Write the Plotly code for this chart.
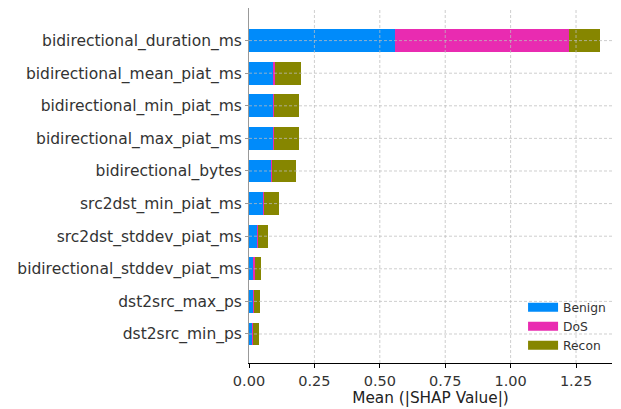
import plotly.graph_objects as go

features = ["bidirectional_duration_ms", "bidirectional_mean_piat_ms",
            "bidirectional_min_piat_ms", "bidirectional_max_piat_ms",
            "bidirectional_bytes", "src2dst_min_piat_ms",
            "src2dst_stddev_piat_ms", "bidirectional_stddev_piat_ms",
            "dst2src_max_ps", "dst2src_min_ps"]
benign = [0.559, 0.094, 0.092, 0.092, 0.087, 0.054, 0.033, 0.018, 0.018, 0.015]
dos = [0.666, 0.005, 0.003, 0.002, 0.001, 0.002, 0.0005, 0.005, 0.0005, 0.002]
recon = [0.115, 0.099, 0.096, 0.097, 0.093, 0.059, 0.039, 0.023, 0.024, 0.021]
class_names = ["Benign", "DoS", "Recon"]
class_colors = ["rgb(0,139,250)", "rgb(233,43,177)", "rgb(134,134,0)"]
x_ticks = [0.0, 0.25, 0.5, 0.75, 1.0, 1.25]
x_tick_labels = ["0.00", "0.25", "0.50", "0.75", "1.00", "1.25"]

fig = go.Figure()
for name, vals, col in zip(class_names, [benign, dos, recon], class_colors):
    fig.add_trace(go.Bar(
        y=features, x=vals, name=name, orientation="h",
        marker=dict(color=col, line=dict(width=0)),
        width=0.7, showlegend=False))
for name, col in zip(class_names, class_colors):
    fig.add_trace(go.Scatter(
        x=[None], y=[None], mode="lines", name=name,
        line=dict(color=col, width=9), showlegend=True))

grid_col = "rgba(190,190,190,0.75)"
shapes = []
for t in x_ticks[1:]:
    shapes.append(dict(type="line", xref="x", yref="paper", x0=t, x1=t, y0=0, y1=1,
                       line=dict(color=grid_col, width=1, dash="3px,2px"), layer="above"))
for f in features:
    shapes.append(dict(type="line", xref="paper", yref="y", x0=0, x1=1, y0=f, y1=f,
                       line=dict(color=grid_col, width=1, dash="3px,2px"), layer="above"))

# the page body adds an 8px offset; size and margins compensate for it
fig.update_layout(
    width=613, height=401,
    margin=dict(l=241, r=9, t=0, b=46),
    barmode="stack", bargap=0.3,
    plot_bgcolor="white", paper_bgcolor="white",
    font=dict(family="DejaVu Sans", color="#333333"),
    shapes=shapes,
    legend=dict(x=0.755, y=0.198, xanchor="left", yanchor="top", traceorder="normal",
                bgcolor="rgba(0,0,0,0)", font=dict(size=12.3, color="#333333"),
                itemwidth=30, tracegroupgap=0),
    xaxis=dict(range=[0, 1.3875], tickvals=x_ticks, ticktext=x_tick_labels,
               showgrid=False, zeroline=False, showline=True, linecolor="black",
               linewidth=1.2, ticks="outside", ticklen=4, tickcolor="black",
               tickfont=dict(size=14.5, color="#333333"),
               title=dict(text="Mean (|SHAP Value|)", font=dict(size=15.3, color="#222222"),
                          standoff=4)),
    yaxis=dict(categoryorder="array", categoryarray=features[::-1],
               range=[-0.89, 10.0], showgrid=False, zeroline=False,
               showline=True, linecolor="#999999", linewidth=1,
               ticks="outside", ticklen=3, tickcolor="#999999",
               tickfont=dict(size=15.5, color="#333333")),
)
fig.write_html("out.html")
